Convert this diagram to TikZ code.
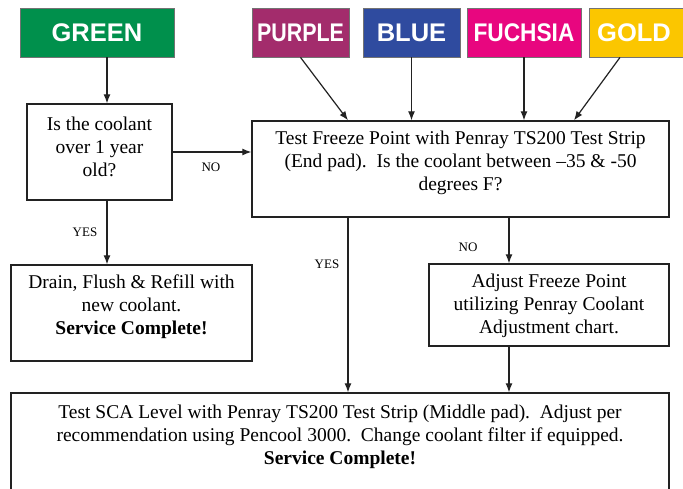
\documentclass[tikz,border=0pt]{standalone}
\usepackage{fontspec}
\setmainfont{Liberation Serif}
\newfontfamily\labfont{Liberation Sans}
\usetikzlibrary{arrows.meta}
\definecolor{cgreen}{HTML}{00904C}
\definecolor{cpurple}{HTML}{A32C6C}
\definecolor{cblue}{HTML}{2F4B9F}
\definecolor{cfuchsia}{HTML}{E8067F}
\definecolor{cgold}{HTML}{FBC600}
\definecolor{cline}{HTML}{222222}
\begin{document}
\begin{tikzpicture}[x=1pt,y=-1pt,
  box/.style={draw=cline, line width=1.4pt, fill=white, inner sep=0pt},
  txt/.style={align=center, inner sep=0pt, font=\fontsize{19.5}{23}\selectfont},
  tag/.style={fill=#1, draw=black!55, line width=0.8pt, text=white, inner sep=0pt,
    font=\labfont\bfseries\fontsize{25.5}{25.5}\selectfont},
  arr/.style={draw=cline, line width=1.2pt, -{Latex[length=9pt,width=7pt]}},
  lab/.style={inner sep=0pt, font=\fontsize{13}{13}\selectfont}]
\fill[white] (0,0) rectangle (683,489);
\useasboundingbox (0,0) rectangle (683,489);

% colour tags
\node[tag=cgreen, minimum width=154, minimum height=49] (green) at (97,32.5) {GREEN};
\node[tag=cpurple, minimum width=97, minimum height=49] (purple) at (300.5,32.5) {\scalebox{0.84}[1]{PURPLE}};
\node[tag=cblue, minimum width=97, minimum height=49] (blue) at (411.5,32.5) {BLUE};
\node[tag=cfuchsia, minimum width=114, minimum height=49] (fuchsia) at (524,32.5) {\scalebox{0.89}[1]{FUCHSIA}};
\node[tag=cgold, minimum width=96, minimum height=49] (gold) at (637,32.5) {\hspace*{-6pt}GOLD};

% boxes
\node[box, minimum width=145, minimum height=96] (q) at (99.5,152) {};
\node[box, minimum width=417, minimum height=96] (test) at (460.5,169) {};
\node[box, minimum width=241, minimum height=96] (drain) at (131.5,313) {};
\node[box, minimum width=240, minimum height=82] (adjust) at (549,305) {};
\node[box, minimum width=658, minimum height=127] (bottom) at (340,456.5) {};

% texts
\node[txt] (qtxt) at (99.5,147) {Is the coolant\\over 1 year\\old?};
\node[txt] (ttxt) at (460.5,163) {Test Freeze Point with Penray TS200 Test Strip\\(End pad).\ \ Is the coolant between \textendash35 \& -50\\degrees F?};
\node[txt] (dtxt) at (131.5,307) {Drain, Flush \& Refill with\\new coolant.\\\textbf{Service Complete!}};
\node[txt] (atxt) at (549,305.5) {Adjust Freeze Point\\utilizing Penray Coolant\\Adjustment chart.};
\node[txt] (btxt) at (340,436.5) {Test SCA Level with Penray TS200 Test Strip (Middle pad).\ \ Adjust per\\recommendation using Pencool 3000.\ \ Change coolant filter if equipped.\\\textbf{Service Complete!}};

% guide coordinates
\coordinate (xl) at (107,0);
\coordinate (xp) at (348,0);
\coordinate (xg) at (620,0);
\coordinate (xg2) at (574,0);
\coordinate (xn) at (509,0);

% connectors
\draw[arr] (green.south -| xl) -- (q.north -| xl);
\draw[arr] (purple.south) -- (test.north -| xp);
\draw[arr] (blue.south) -- (test.north -| blue.south);
\draw[arr] (fuchsia.south) -- (test.north -| fuchsia.south);
\draw[arr] (gold.south -| xg) -- (test.north -| xg2);
\draw[arr] (q.east) -- (test.west |- q.east);
\draw[arr] (q.south -| xl) -- (drain.north -| xl);
\draw[arr] (test.south -| xp) -- (bottom.north -| xp);
\draw[arr] (test.south -| xn) -- (adjust.north -| xn);
\draw[arr] (adjust.south -| xn) -- (bottom.north -| xn);

% branch labels
\node[lab] (no1) at (211,167) {NO};
\node[lab] (yes1) at (85,232) {YES};
\node[lab] (yes2) at (327,264) {YES};
\node[lab] (no2) at (468,247) {NO};
\end{tikzpicture}
\end{document}
